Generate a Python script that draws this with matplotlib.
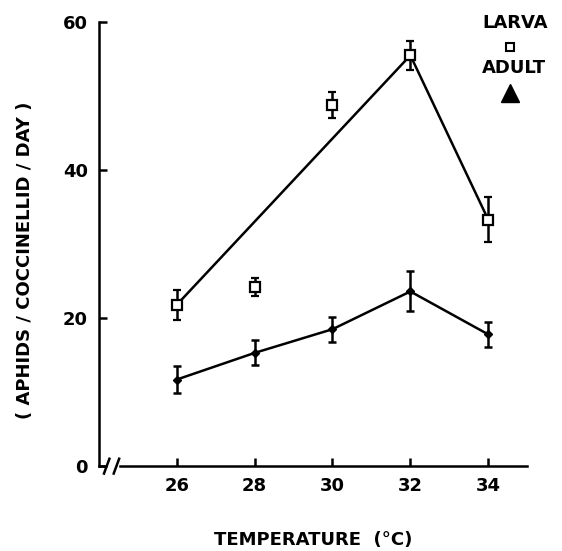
import numpy as np
import matplotlib
matplotlib.use('Agg')
from matplotlib import pyplot as plt

temps = [26, 28, 30, 32, 34]
larva = [21.8, 24.2, 48.8, 55.5, 33.3]
larva_err = [2.0, 1.2, 1.7, 2.0, 3.0]
adult = [11.7, 15.3, 18.5, 23.6, 17.8]
adult_err = [1.8, 1.7, 1.7, 2.7, 1.7]
# larva line skips the 28 and 30 points
larva_line_x = [26, 32, 34]
larva_line_y = [21.8, 55.5, 33.3]

plt.rcParams['font.family'] = 'DejaVu Sans'
plt.rcParams['font.weight'] = 'bold'

fig = plt.figure(figsize=(5.62, 5.51), dpi=100)
ax = fig.add_axes([0.176, 0.154, 0.762, 0.806])

lw = 1.8
ax.plot(larva_line_x, larva_line_y, color='black', lw=lw, zorder=2)
ax.errorbar(temps, larva, yerr=larva_err, fmt='s', ms=7, mfc='white', mec='black',
            mew=1.6, ecolor='black', elinewidth=lw, capsize=2.8, capthick=lw, zorder=3)
ax.errorbar(temps, adult, yerr=adult_err, fmt='D-', ms=4, color='black', lw=lw,
            elinewidth=lw, capsize=2.8, capthick=lw, zorder=3)

ax.set_xlim(24, 35)
ax.set_ylim(0, 60)
ax.set_xticks(temps)
ax.set_yticks([0, 20, 40, 60])
ax.tick_params(direction='in', length=6, width=lw, labelsize=13, pad=8)
for lab in ax.get_xticklabels() + ax.get_yticklabels():
    lab.set_fontweight('bold')

for s in ['top', 'right']:
    ax.spines[s].set_visible(False)
ax.spines['left'].set_linewidth(lw)
ax.spines['bottom'].set_linewidth(lw)
ax.spines['bottom'].set_bounds(24.55, 35)

# axis break on x axis
ax.plot([24, 24.12], [0, 0], color='black', lw=lw, clip_on=False)
for xb in [24.2, 24.45]:
    ax.plot([xb - 0.07, xb + 0.07], [-1.0, 1.0], color='black', lw=lw, clip_on=False)

ax.set_xlabel('TEMPERATURE  (°C)', fontsize=13, fontweight='bold', labelpad=26)
fig.text(0.044, 0.528, '( APHIDS / COCCINELLID / DAY )', rotation=90, fontsize=13,
         fontweight='bold', ha='center', va='center')

# legend
ax.text(34.70, 59.9, 'LARVA', fontsize=13, fontweight='bold', ha='center', va='center')
ax.plot([34.57], [56.6], 's', ms=6, mfc='white', mec='black', mew=1.5, clip_on=False)
ax.text(34.65, 53.8, 'ADULT', fontsize=13, fontweight='bold', ha='center', va='center')
ax.plot([34.55], [50.4], '^', ms=13, color='black', clip_on=False)

fig.savefig('out.png', dpi=100)
